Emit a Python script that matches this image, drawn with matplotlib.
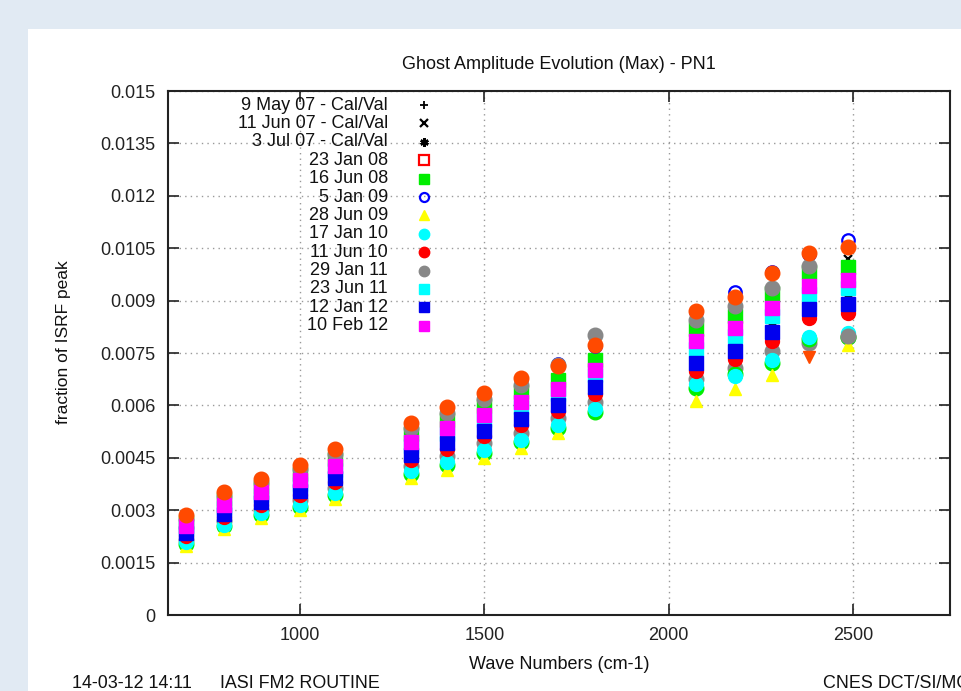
import numpy as np
import matplotlib
matplotlib.use("Agg")
import matplotlib.pyplot as plt
from matplotlib.patches import Rectangle

plt.rcParams['font.family'] = ['Liberation Sans', 'DejaVu Sans']

nan = np.nan
wavenumbers = [690, 795, 895, 1000, 1095, 1300, 1400, 1500, 1600, 1700, 1800, 2075, 2180, 2280, 2380, 2485]

may07_calval = [0.00239, 0.00296, 0.00331, 0.00362, 0.00401, 0.00468, 0.00501, 0.00539, 0.00574, 0.00613, 0.00665, 0.00736, 0.00773, 0.00827, 0.00892, 0.00907]
jun07_calval = [0.00250, 0.00309, 0.00345, 0.00378, 0.00418, 0.00487, 0.00523, 0.00561, 0.00598, 0.00636, 0.00690, 0.00767, 0.00805, 0.00862, 0.00926, 0.01019]
jul07_calval = [0.00243, 0.00301, 0.00336, 0.00368, 0.00407, 0.00474, 0.00509, 0.00546, 0.00582, 0.00620, 0.00673, 0.00747, 0.00784, 0.00839, 0.00904, 0.00919]
jan08 = [0.00264, 0.00326, 0.00363, 0.00399, 0.00441, 0.00512, 0.00552, 0.00591, 0.00630, 0.00666, 0.00723, 0.00808, 0.00847, 0.00909, 0.00970, 0.00986]
jun08 = [0.00267, 0.00331, 0.00367, 0.00404, 0.00447, 0.00518, 0.00559, 0.00598, 0.00638, 0.00674, 0.00731, 0.00819, 0.00857, 0.00921, 0.00981, 0.00997]
jan09 = [0.00284, 0.00351, 0.00389, 0.00429, 0.00475, 0.00548, 0.00593, 0.00633, 0.00676, 0.00718, 0.00771, 0.00867, 0.00925, 0.00982, 0.01033, 0.01073]
jun09 = [0.00197, 0.00245, 0.00277, 0.00300, 0.00332, 0.00392, 0.00415, 0.00450, 0.00478, 0.00521, 0.00669, 0.00613, 0.00647, 0.00687, 0.00870, 0.00773]
jan10 = [0.00208, 0.00258, 0.00291, 0.00316, 0.00349, 0.00411, 0.00437, 0.00472, 0.00502, 0.00544, 0.00590, 0.00660, 0.00684, 0.00730, 0.00795, 0.00807]
jun10 = [0.00226, 0.00280, 0.00314, 0.00343, 0.00380, 0.00444, 0.00474, 0.00511, 0.00544, 0.00584, 0.00634, 0.00698, 0.00734, 0.00783, 0.00851, 0.00865]
jan11 = [0.00276, 0.00341, 0.00379, 0.00417, 0.00462, 0.00534, 0.00577, 0.00617, 0.00658, 0.00716, 0.00802, 0.00844, 0.00884, 0.00935, 0.00998, 0.00800]
jun11 = [0.00248, 0.00307, 0.00343, 0.00375, 0.00416, 0.00484, 0.00519, 0.00557, 0.00594, 0.00632, 0.00686, 0.00762, 0.00800, 0.00856, 0.00920, 0.00935]
jan12 = [0.00234, 0.00290, 0.00324, 0.00355, 0.00392, 0.00458, 0.00491, 0.00528, 0.00562, 0.00601, 0.00652, 0.00721, 0.00757, 0.00810, 0.00876, 0.00891]
feb12 = [0.00255, 0.00316, 0.00352, 0.00386, 0.00427, 0.00496, 0.00534, 0.00572, 0.00610, 0.00647, 0.00702, 0.00783, 0.00821, 0.00880, 0.00942, 0.00958]

# series drawn in the chart without a legend entry
extra_gray = [0.00216, 0.00269, 0.00302, 0.00329, 0.00364, 0.00427, 0.00455, 0.00491, 0.00522, 0.00563, 0.00611, 0.00676, 0.00708, 0.00756, 0.00779, 0.00796]
extra_green = [0.00204, 0.00254, 0.00286, 0.00310, 0.00344, 0.00405, 0.00429, 0.00465, 0.00494, 0.00536, 0.00582, 0.00650, 0.00690, 0.00722, 0.00790, 0.00795]
extra_orange = [0.00285, 0.00352, 0.00390, 0.00430, 0.00476, 0.00550, 0.00595, 0.00635, 0.00678, 0.00712, 0.00773, 0.00870, 0.00910, 0.00979, 0.01036, 0.01053]
extra_orange_tri = [nan, nan, nan, nan, nan, nan, nan, nan, nan, nan, nan, nan, nan, nan, 0.00739, nan]

labels = ["9 May 07 - Cal/Val", "11 Jun 07 - Cal/Val", "3 Jul 07 - Cal/Val", "23 Jan 08",
          "16 Jun 08", "5 Jan 09", "28 Jun 09", "17 Jan 10", "11 Jun 10", "29 Jan 11",
          "23 Jun 11", "12 Jan 12", "10 Feb 12"]
values = [may07_calval, jun07_calval, jul07_calval, jan08, jun08, jan09, jun09, jan10,
          jun10, jan11, jun11, jan12, feb12]

styles = [
    dict(marker='+', color='black', ms=6, mew=1.3),
    dict(marker='x', color='black', ms=5.5, mew=1.6),
    dict(marker=(6, 2, 0), color='black', ms=6, mew=1.8),
    dict(marker='s', mfc='none', mec='#ff0000', ms=7, mew=1.6),
    dict(marker='s', color='#00ee00', ms=9.4),
    dict(marker='o', mfc='none', mec='#0000ff', ms=9, mew=1.6),
    dict(marker='^', color='#ffff00', ms=8.5),
    dict(marker='o', color='#00ffff', ms=10),
    dict(marker='o', color='#ff0000', ms=10),
    dict(marker='o', color='#888888', ms=10.5),
    dict(marker='s', color='#00ffff', ms=9.4),
    dict(marker='s', color='#0000ee', ms=9.4),
    dict(marker='s', color='#ff00ff', ms=9.4),
]
legend_ms = [6, 5.5, 6, 6.5, 7, 6.5, 7, 7.5, 7.5, 7.5, 7, 7, 7]

W, H = 961, 691
fig = plt.figure(figsize=(W / 100, H / 100), dpi=100)
fig.patch.set_facecolor('#e1eaf3')
fig.patches.append(Rectangle((28 / W, 0), 1 - 28 / W, (H - 29) / H, transform=fig.transFigure,
                             facecolor='white', edgecolor='none', zorder=-10))

L, R, T, B = 168, 950, 91, 615
ax = fig.add_axes([L / W, (H - B) / H, (R - L) / W, (B - T) / H])
ax.set_zorder(1)
ax.set_xlim(642, 2763)
ax.set_ylim(0, 0.015)

yticks = [0, 0.0015, 0.003, 0.0045, 0.006, 0.0075, 0.009, 0.0105, 0.012, 0.0135, 0.015]
ytick_labels = ["0", "0.0015", "0.003", "0.0045", "0.006", "0.0075", "0.009", "0.0105", "0.012", "0.0135", "0.015"]
xticks = [1000, 1500, 2000, 2500]
ax.set_yticks(yticks)
ax.set_yticklabels(ytick_labels)
ax.set_xticks(xticks)
ax.set_xticklabels([str(v) for v in xticks])
ax.tick_params(direction='in', length=8, width=1.2, top=True, right=True, labelsize=13,
               pad=9, colors='#222222')
for s in ax.spines.values():
    s.set_linewidth(1.5)
    s.set_color('#222222')
ax.grid(True, color='#999999', linestyle=(0, (1, 3)), linewidth=1.0)
ax.set_axisbelow(True)

ax.plot(wavenumbers, extra_gray, linestyle='none', marker='o', color='#888888', ms=10.5)
ax.plot(wavenumbers, extra_green, linestyle='none', marker='o', color='#00ee00', ms=10.5)
for vals, st in zip(values, styles):
    ax.plot(wavenumbers, vals, linestyle='none', **st)
ax.plot(wavenumbers, extra_orange, linestyle='none', marker='o', color='#ff4a00', ms=10.5)
ax.plot(wavenumbers, extra_orange_tri, linestyle='none', marker='v', color='#ff4a00', ms=8.5)

# gnuplot-style key: right-aligned text, symbol to the right
y0 = (B - 105) / (B - T)
dy = 18.4 / (B - T)
tx = (388 - L) / (R - L)
mx = (424 - L) / (R - L)
for i, (lab, st, lms) in enumerate(zip(labels, styles, legend_ms)):
    yy = y0 - i * dy
    ax.text(tx, yy, lab, transform=ax.transAxes, ha='right', va='center', fontsize=13,
            color='#111111')
    st2 = dict(st)
    st2['ms'] = lms
    ax.plot([mx], [yy], transform=ax.transAxes, linestyle='none', clip_on=False, **st2)

ax.set_title("Ghost Amplitude Evolution (Max) - PN1", fontsize=13, pad=16, color='#111111')
ax.set_xlabel("Wave Numbers (cm-1)", fontsize=13, labelpad=8, color='#111111')
ax.set_ylabel("fraction of ISRF peak", fontsize=12.5, color='#111111')
ax.yaxis.set_label_coords((71 - L) / (R - L), (B - 342) / (B - T))

fig.text(72 / W, 1 - 683 / H, "14-03-12 14:11", fontsize=12.9, ha='left', va='center', color='#111111')
fig.text(220 / W, 1 - 683 / H, "IASI FM2 ROUTINE", fontsize=12.9, ha='left', va='center', color='#111111')
fig.text(823 / W, 1 - 683 / H, "CNES DCT/SI/MO", fontsize=12.9, ha='left', va='center', color='#111111')

fig.savefig("out.png", dpi=100, facecolor=fig.get_facecolor())
